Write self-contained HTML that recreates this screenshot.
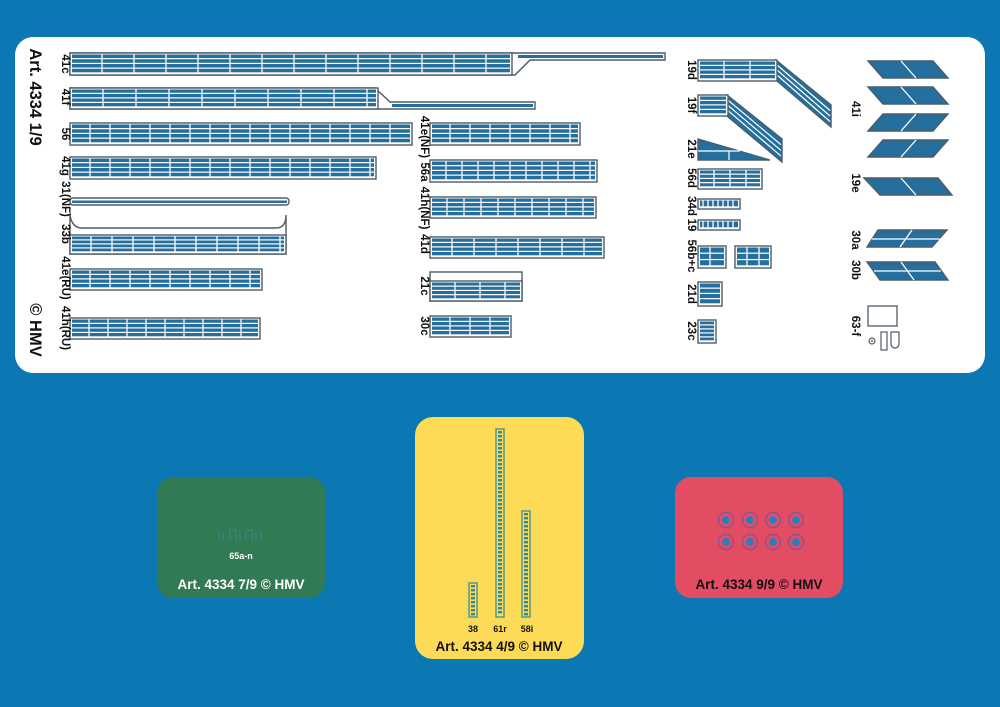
<!DOCTYPE html>
<html><head><meta charset="utf-8"><style>
html,body{margin:0;padding:0;background:#0b78b4;}
svg{display:block}
text{font-family:"Liberation Sans",sans-serif;font-weight:bold;}
</style></head><body>
<svg id="s" width="1000" height="707" viewBox="0 0 1000 707" xmlns="http://www.w3.org/2000/svg">
<rect x="0" y="0" width="1000" height="707" fill="#0b78b4"/>
<rect x="15" y="37" width="970" height="336" rx="18" fill="#fff"/>
<rect x="157" y="477" width="168" height="121" rx="16" fill="#327a53"/>
<rect x="415" y="417" width="169" height="242" rx="18" fill="#fddb57"/>
<rect x="675" y="477" width="168" height="121" rx="16" fill="#e34d64"/>
<g id="g"></g>
<g fill="#111">
<text transform="translate(30,97) rotate(90)" text-anchor="middle" font-size="16.5">Art. 4334 1/9</text>
<text transform="translate(30,330) rotate(90)" text-anchor="middle" font-size="16.5">© HMV</text>
</g>
<text x="241" y="559" text-anchor="middle" font-size="9" fill="#fff">65a-n</text>
<text x="241" y="589" text-anchor="middle" font-size="13.5" fill="#fff">Art. 4334 7/9 © HMV</text>
<text x="499" y="651" text-anchor="middle" font-size="13.5" fill="#111">Art. 4334 4/9 © HMV</text>
<text x="473" y="632" text-anchor="middle" font-size="9" fill="#111">38</text>
<text x="500" y="632" text-anchor="middle" font-size="9" fill="#111">61r</text>
<text x="527" y="632" text-anchor="middle" font-size="9" fill="#111">58i</text>
<text x="759" y="589" text-anchor="middle" font-size="13.5" fill="#111">Art. 4334 9/9 © HMV</text>
<g fill="none" stroke="#3b8ea0" stroke-width="1" opacity="0.8">
<path d="M219 540 v-10 M223 540 v-8 M230 540 v-10 h6 v10 M240 540 v-9 M246 540 v-10 h6 v10 M256 540 v-8 M261 540 v-10"/>
</g>
</svg>
<script>
var g=document.getElementById('g'),NS='http://www.w3.org/2000/svg',B='#246f9d',O='#4c5c68';
function el(t,a){var e=document.createElementNS(NS,t);for(var k in a)e.setAttribute(k,a[k]);g.appendChild(e);return e;}
function rail(x1,y1,x2,y2,cw,n){n=n||4;cw=cw||21;
 el('rect',{x:x1,y:y1,width:x2-x1,height:y2-y1,fill:'#fff',stroke:O,'stroke-width':1.4});
 var ih=(y2-y1-3),sh=ih/n;
 for(var i=0;i<n;i++)el('rect',{x:x1+2,y:y1+1.5+i*sh,width:x2-x1-4,height:sh-1.2,fill:B});
 for(var x=x1+cw;x<x2-4;x+=cw)el('line',{x1:x,y1:y1+1,x2:x,y2:y2-1,stroke:'#fff','stroke-width':1.3});
}
function poly(p,fill){return el('polygon',{points:p,fill:fill||B,stroke:O,'stroke-width':1.4});}
function lbl(x,y,t,fs){var e=el('text',{transform:'translate('+x+','+y+') rotate(90)','text-anchor':'middle','font-size':fs||11.5,fill:'#111'});e.textContent=t;}
poly('70,53 665,53 665,60 530,60 515,75 70,75','#fff');rail(70,53,512,75,32);
el('rect',{x:518,y:55,width:145,height:3,fill:B});
poly('70,88 375,88 390,102 535,102 535,109 70,109','#fff');rail(70,88,378,109,33);
el('rect',{x:392,y:104,width:141,height:3,fill:B});
rail(70,123,412,145,20);rail(70,157,376,179,20);
el('rect',{x:70,y:198,width:219,height:7,rx:3,fill:'#fff',stroke:O,'stroke-width':1.4});
el('rect',{x:72,y:200.5,width:215,height:2.5,fill:B});
el('path',{d:'M70 215 Q72 228 82 228 L276 228 Q286 228 286 215 M70 215 V254 H286 V215',fill:'none',stroke:O,'stroke-width':1.4});
rail(70,235,286,254,21);
rail(70,269,262,290,20);rail(70,318,260,339,19);
rail(430,123,580,145,20);rail(430,160,597,182,16);rail(430,197,596,218,17);rail(430,237,604,258,22);
el('rect',{x:430,y:272,width:92,height:29,fill:'#fff',stroke:O,'stroke-width':1.4});rail(430,281,522,301,25);
rail(430,316,511,337,20);
function para(p,lines){poly(p);lines.forEach(function(l){el('line',{x1:l[0],y1:l[1],x2:l[2],y2:l[3],stroke:'#fff','stroke-width':1.3});});}
poly('776,60 831,105 831,127 776,80');
for(var i=1;i<4;i++)el('line',{x1:777,y1:60+i*5,x2:830,y2:105+i*5.5,stroke:'#fff','stroke-width':1.2});
rail(698,60,777,81,26);
poly('727,95 782,139 782,162 727,116');
for(var i=1;i<4;i++)el('line',{x1:728,y1:95+i*5.2,x2:781,y2:139+i*5.7,stroke:'#fff','stroke-width':1.2});
rail(698,95,728,116,30);
poly('698,139 770,160 698,160');el('line',{x1:698,y1:151,x2:740,y2:151,stroke:'#fff','stroke-width':1.2});el('line',{x1:729,y1:151,x2:729,y2:160,stroke:'#fff','stroke-width':1.2});
rail(698,169,762,189,16);rail(698,199,740,209,5,1);rail(698,220,740,230,5,1);
rail(698,246,726,268,12,3);rail(735,246,771,268,12,3);rail(698,282,722,306,30);rail(698,320,716,343,30,5);
para('868,61 933,61 948,78 883,78',[[901,61,916,78]]);
para('868,87 933,87 948,104 883,104',[[901,87,916,104]]);
para('883,114 948,114 933,131 868,131',[[916,114,901,131]]);
para('883,140 948,140 933,157 868,157',[[916,140,901,157]]);
para('864,178 938,178 952,195 880,195',[[901,178,916,195]]);
para('878,230 947,230 932,247 867,247',[[912,230,900,247],[872,239,940,239]]);
para('867,262 935,262 948,280 880,280',[[901,262,914,280],[874,271,941,271]]);
el('rect',{x:868,y:306,width:29,height:20,fill:'#fff',stroke:O,'stroke-width':1.3});
el('circle',{cx:872,cy:341,r:3,fill:'#fff',stroke:O,'stroke-width':1.2});el('circle',{cx:872,cy:341,r:1,fill:O});
el('rect',{x:881,y:332,width:6,height:18,fill:'#fff',stroke:O,'stroke-width':1.2});
el('path',{d:'M891 332 H899 V344 A4 4 0 0 1 891 344 Z',fill:'#fff',stroke:O,'stroke-width':1.2});
lbl(62,64,'41c');lbl(62,97,'41f');lbl(62,134,'56');lbl(62,166,'41g');lbl(62,199,'31(NF)');lbl(62,234,'33b');lbl(62,278,'41e(RU)');lbl(62,328,'41h(RU)');
lbl(421,137,'41e(NF)');lbl(421,172,'56a');lbl(421,208,'41h(NF)');lbl(421,244,'41d');lbl(421,286,'21c');lbl(421,326,'30c');
lbl(688,70,'19d');lbl(688,105,'19f');lbl(688,149,'21e');lbl(688,178,'56d');lbl(688,206,'34d');lbl(688,225,'19');lbl(688,256,'56b+c');lbl(688,294,'21d');lbl(688,331,'23c');
lbl(852,109,'41i');lbl(852,183,'19e');lbl(852,240,'30a');lbl(852,270,'30b');lbl(852,326,'63-f');
function ladder(x,y1,y2){el('rect',{x:x,y:y1,width:8,height:y2-y1,fill:'none',stroke:'#3b8e9c','stroke-width':1.3});
 for(var y=y1+2;y<y2-2;y+=4)el('rect',{x:x+2,y:y,width:4,height:2.4,fill:'#2f8aa0'});}
ladder(469,583,617);ladder(496,429,617);ladder(522,511,617);
[520,542].forEach(function(cy){[726,750,773,796].forEach(function(cx){
 el('circle',{cx:cx,cy:cy,r:7.5,fill:'none',stroke:'#7d5590','stroke-width':1.2});
 el('circle',{cx:cx,cy:cy,r:3.8,fill:'#1d82c4'});});});
</script>
</body></html>
